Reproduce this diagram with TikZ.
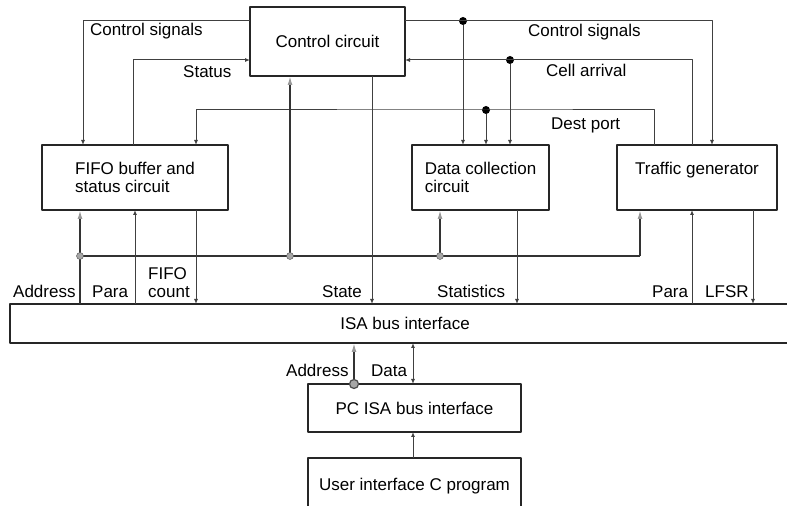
\documentclass[tikz,border=0pt]{standalone}
\usepackage{fontspec}
\setmainfont{Liberation Sans}
\usetikzlibrary{arrows.meta}
\begin{document}
\begin{tikzpicture}[>={Latex[length=5bp,width=4bp]},line join=bevel,
  font=\fontsize{17bp}{17.5bp}\selectfont,
  box/.style={draw=black!85,line width=1.6bp,inner sep=0pt,outer sep=0pt},
  wire/.style={draw=black!75,line width=1bp},
  addr/.style={draw=black!80,line width=1.5bp},
  addrarrow/.style={addr,-{Latex[length=9bp,width=5bp,color=black!40]}},
  lbl/.style={anchor=base west,inner sep=0pt},
  dot/.style={circle,fill=black,inner sep=0pt,minimum size=8bp},
  gdot/.style={circle,fill=black!35,draw=black!70,inner sep=0pt,minimum size=7bp},
]
\useasboundingbox (0bp,0bp) rectangle (787bp,506bp);
%%
\node (node_ctrl) at (327.5bp,464.5bp) [box,minimum width=155bp,minimum height=69bp] {Control circuit};
  \node (node_fifo) at (135bp,328.5bp) [box,minimum width=186bp,minimum height=65bp,align=left] {FIFO buffer and\\status circuit};
  \node (node_dcc) at (480.5bp,328.5bp) [box,minimum width=137bp,minimum height=65bp,align=left] {Data collection\\circuit};
  \node (node_tgen) at (697bp,328.5bp) [box,minimum width=160bp,minimum height=65bp,align=center] {Traffic generator\\\mbox{}};
  \node (node_isa) at (405bp,182.5bp) [box,minimum width=790bp,minimum height=39bp] {ISA bus interface};
  \node (node_pc) at (414.5bp,98bp) [box,minimum width=213bp,minimum height=48bp] {PC ISA bus interface};
  \node (node_user) at (414.5bp,20bp) [box,minimum width=213bp,minimum height=56bp] {User interface C program};
%% junctions
  \node (dot_cs) at (463bp,485bp) [dot] {};
  \node (dot_ca) at (510bp,446bp) [dot] {};
  \node (dot_dp) at (486bp,396bp) [dot] {};
  \coordinate (bus_l) at (80bp,250bp);
  \coordinate (bus_c) at (290bp,250bp);
  \coordinate (bus_d) at (440bp,250bp);
  \coordinate (bus_r) at (640bp,250bp);
%% control lines
  \draw [wire,->] (node_ctrl.west |- 0bp,485bp) -| (node_fifo.north -| 83bp,0bp);
  \draw [wire,->] (node_fifo.north -| 133bp,0bp) |- (node_ctrl.west |- 0bp,446bp);
  \draw [wire,->] (node_tgen.north -| 654bp,0bp) |- (dot_dp.center) -| (node_fifo.north -| 196bp,0bp);
  \draw [wire,->] (dot_dp) -- (node_dcc.north -| dot_dp);
  \draw [wire,->] (node_ctrl.east |- dot_cs) -| (node_tgen.north -| 712bp,0bp);
  \draw [wire,->] (dot_cs) -- (node_dcc.north -| dot_cs);
  \draw [wire,->] (node_tgen.north -| 692bp,0bp) |- (node_ctrl.east |- dot_ca);
  \draw [wire,->] (dot_ca) -- (node_dcc.north -| dot_ca);
%% address bus
  \draw [addr] (bus_l) -- (bus_r);
  \draw [addrarrow] (node_isa.north -| bus_l) -- (node_fifo.south -| bus_l);
  \draw [addrarrow] (bus_c) -- (node_ctrl.south -| bus_c);
  \draw [addrarrow] (bus_d) -- (node_dcc.south -| bus_d);
  \draw [addrarrow] (bus_r) -- (node_tgen.south -| bus_r);
  \node at (bus_l) [gdot] {};
  \node at (bus_c) [gdot] {};
  \node at (bus_d) [gdot] {};
%% data lines to the ISA bus
  \draw [wire,->] (node_isa.north -| 135bp,0bp) -- (node_fifo.south -| 135bp,0bp);
  \draw [wire,->] (node_fifo.south -| 196bp,0bp) -- (node_isa.north -| 196bp,0bp);
  \draw [wire,->] (node_ctrl.south -| 372bp,0bp) -- (node_isa.north -| 372bp,0bp);
  \draw [wire,->] (node_dcc.south -| 517bp,0bp) -- (node_isa.north -| 517bp,0bp);
  \draw [wire,->] (node_isa.north -| 692bp,0bp) -- (node_tgen.south -| 692bp,0bp);
  \draw [wire,->] (node_tgen.south -| 753bp,0bp) -- (node_isa.north -| 753bp,0bp);
%% PC side
  \draw [addrarrow] (node_pc.north -| 354bp,0bp) -- (node_isa.south -| 354bp,0bp);
  \node at (node_pc.north -| 354bp,0bp) [gdot,minimum size=9bp,line width=1.2bp] {};
  \draw [wire,<->] (node_pc.north -| 413bp,0bp) -- (node_isa.south -| 413bp,0bp);
  \draw [wire,->] (node_user.north -| 413bp,0bp) -- (node_pc.south -| 413bp,0bp);
%% labels
  \node at (90bp,470bp) [lbl] {Control signals};
  \node at (183bp,428bp) [lbl] {Status};
  \node at (528bp,469bp) [lbl] {Control signals};
  \node at (546bp,429bp) [lbl] {Cell arrival};
  \node at (551bp,376bp) [lbl] {Dest port};
  \node at (13bp,208bp) [lbl] {Address};
  \node at (92bp,208bp) [lbl] {Para};
  \node at (148bp,226bp) [lbl] {FIFO};
  \node at (148bp,208bp) [lbl] {count};
  \node at (322bp,208bp) [lbl] {State};
  \node at (437bp,208bp) [lbl] {Statistics};
  \node at (652bp,208bp) [lbl] {Para};
  \node at (705bp,208bp) [lbl] {LFSR};
  \node at (286bp,129bp) [lbl] {Address};
  \node at (371bp,129bp) [lbl] {Data};
%
\end{tikzpicture}
\end{document}
